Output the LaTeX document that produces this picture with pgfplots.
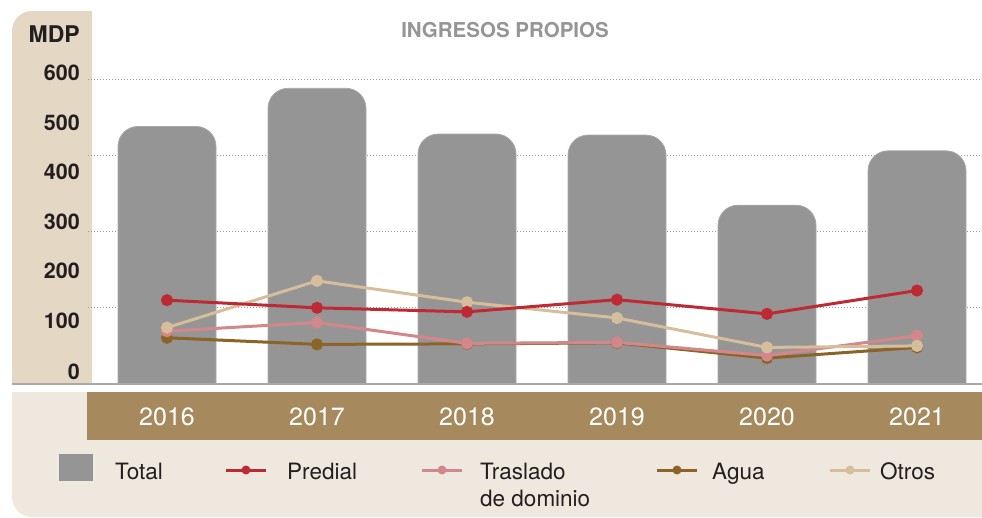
\documentclass[border=0pt]{standalone}
\usepackage{fontspec}
\setmainfont{TeX Gyre Heros}
\usepackage{pgfplots}
\pgfplotsset{compat=1.18}
\definecolor{barg}{HTML}{959596}
\definecolor{baredge}{HTML}{A9A9AA}
\definecolor{panelbeige}{HTML}{E4D8C5}
\definecolor{panellight}{HTML}{EFE8DF}
\definecolor{band}{HTML}{A68A5D}
\definecolor{predial}{HTML}{BE2A33}
\definecolor{traslado}{HTML}{D4878A}
\definecolor{agua}{HTML}{8C6428}
\definecolor{otros}{HTML}{D6BE9C}
\definecolor{darktext}{HTML}{231F20}
\definecolor{titlegray}{HTML}{959596}
\definecolor{gridgray}{HTML}{9A9A9A}
\begin{document}
\begin{tikzpicture}[x=1pt,y=1pt]
\useasboundingbox (0,0) rectangle (982,517);
% left panel
\fill[panelbeige] (92,133) -- (12,133) -- (12,486) arc[start angle=180,end angle=90,radius=20] -- (92,506) -- cycle;

% axis A: grid and bars (bars start below the baseline, hidden by the panels)
\begin{axis}[
  at={(88pt,102.52pt)}, anchor=south west, scale only axis,
  width=894pt, height=403.48pt,
  xmin=-0.52667, xmax=5.43333,
  ymin=40, ymax=834.25,
  y filter/.expression={y+100},
  axis line style={draw=none},
  xtick=\empty, ytick=\empty,
  major tick length=0pt,
  extra y ticks={250,400,550,700},
  extra y tick labels={},
  extra y tick style={grid=major},
  major grid style={draw=gridgray, line width=1.3pt, dash pattern=on 1.3pt off 1.7pt},
]
\addplot[ybar, bar width=98pt, fill=barg, draw=baredge, line width=0.8pt, rounded corners=20pt]
  coordinates {(0,507) (1,582) (2,492) (3,490) (4,352) (5,459)};
\end{axis}

% cover below the baseline
\fill[white] (12,125) rectangle (982,133);
\fill[panellight] (12,125) -- (12,20) arc[start angle=180,end angle=270,radius=20] -- (982,0) -- (982,125) -- cycle;
\fill[band] (87,77) rectangle (982,125);
% baseline
\draw[baredge, line width=1.6pt] (12,133) -- (982,133);

% axis B: series lines and year labels
\begin{axis}[
  at={(88pt,133pt)}, anchor=south west, scale only axis,
  width=894pt, height=373pt,
  xmin=-0.52667, xmax=5.43333,
  ymin=0, ymax=734.25,
  axis line style={draw=none},
  xtick={0,1,2,3,4,5},
  xticklabels={2016,2017,2018,2019,2020,2021},
  ytick=\empty,
  major tick length=0pt,
  xticklabel style={anchor=base, yshift=-41pt, text=white, font=\fontsize{25}{30}\selectfont},
]
\addplot[color=agua, line width=3pt, mark=*, mark size=4.5pt]
  coordinates {(0,91) (1,78) (2,79) (3,81) (4,51) (5,72)};
\addplot[color=traslado, line width=3pt, mark=*, mark size=4.5pt]
  coordinates {(0,104) (1,121) (2,80) (3,82) (4,56) (5,95)};
\addplot[color=otros, line width=3pt, mark=*, mark size=4.5pt]
  coordinates {(0,111) (1,203) (2,161) (3,130) (4,72) (5,75)};
\addplot[color=predial, line width=3pt, mark=*, mark size=4.5pt]
  coordinates {(0,165) (1,150) (2,142) (3,166) (4,138) (5,184)};
\end{axis}

% title
\node[text=titlegray, font=\bfseries\fontsize{20.5}{24}\selectfont] at (505,487) {INGRESOS PROPIOS};

% y labels
\begin{scope}[font=\bfseries\fontsize{21.5}{24}\selectfont, text=darktext]
\node[anchor=east, inner sep=0pt, font=\bfseries\fontsize{23}{26}\selectfont] at (80,483) {MDP};
\node[anchor=east, inner sep=0pt] at (80,444) {600};
\node[anchor=east, inner sep=0pt] at (80,394) {500};
\node[anchor=east, inner sep=0pt] at (80,345) {400};
\node[anchor=east, inner sep=0pt] at (80,295) {300};
\node[anchor=east, inner sep=0pt] at (80,246) {200};
\node[anchor=east, inner sep=0pt] at (80,196) {100};
\node[anchor=east, inner sep=0pt] at (80,145) {0};
\end{scope}

% legend
\begin{scope}[font=\fontsize{22.5}{27}\selectfont, text=darktext]
\fill[barg] (59,36) rectangle (93,63);
\node[anchor=base west, inner sep=0pt] at (115,38) {Total};
\draw[predial, line width=3pt] (226,47) -- (266,47);
\fill[predial] (246,47) circle (4.5);
\node[anchor=base west, inner sep=0pt] at (287,38) {Predial};
\draw[traslado, line width=3pt] (422,47) -- (462,47);
\fill[traslado] (442,47) circle (4.5);
\node[anchor=base west, inner sep=0pt] at (480,38) {Traslado};
\node[anchor=base west, inner sep=0pt] at (480,11) {de dominio};
\draw[agua, line width=3pt] (657,47) -- (697,47);
\fill[agua] (677,47) circle (4.5);
\node[anchor=base west, inner sep=0pt] at (712,38) {Agua};
\draw[otros, line width=3pt] (830,47) -- (870,47);
\fill[otros] (850,47) circle (4.5);
\node[anchor=base west, inner sep=0pt] at (880,38) {Otros};
\end{scope}
\end{tikzpicture}
\end{document}
